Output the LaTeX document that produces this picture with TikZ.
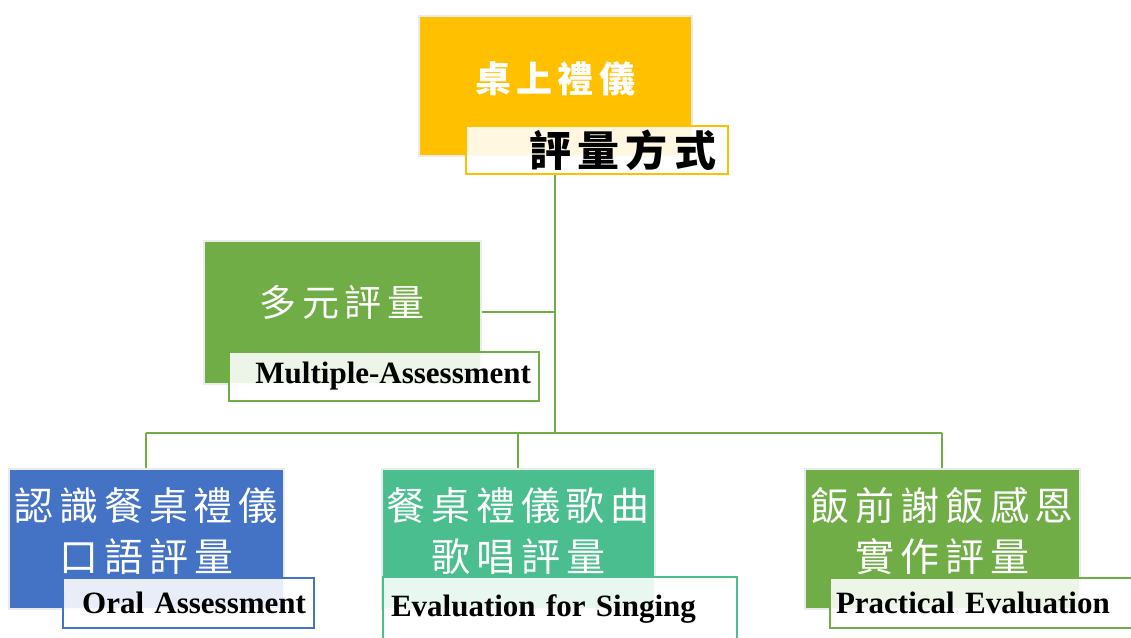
\documentclass[tikz,border=0pt]{standalone}
\usepackage{fontspec}
\setmainfont{Liberation Serif}
\newfontfamily\cjk[LetterSpace=15]{Noto Sans CJK TC}
\definecolor{gold}{HTML}{FFC000}
\definecolor{leaf}{HTML}{70AD47}
\definecolor{sky}{HTML}{4472C4}
\definecolor{jade}{HTML}{4BBE8F}

\begin{document}
\begin{tikzpicture}[x=1pt,y=-1pt,
                box/.style={draw=black!8, line width=1.5pt, text=white, align=center,
                    inner sep=0pt, anchor=north west, font=\cjk\fontsize{39}{51}\selectfont},
                lbl/.style={draw=#1, line width=2pt, fill=white, fill opacity=0.88, text opacity=1,
                    inner xsep=8pt, inner ysep=0pt, anchor=north west,
                    font=\bfseries\fontsize{31}{36}\selectfont},
                wire/.style={draw=leaf, line width=2pt}]
                \useasboundingbox (0,0) rectangle (1131,637);
                \clip (0,0) rectangle (1131,637);

                \node[box, fill=gold, minimum width=273, minimum height=140, text depth=18pt,
                    font=\cjk\bfseries\fontsize{36}{40}\selectfont] (top) at (418,15) {桌上禮儀};
                \node[lbl=gold, minimum height=48, text width=238, inner xsep=12pt, align=right,
                    font=\cjk\bfseries\fontsize{42}{46}\selectfont] (evallbl) at (465,125) {評量方式};

                \node[box, fill=leaf, minimum width=277, minimum height=143, text depth=22pt,
                    font=\cjk\fontsize{37}{40}\selectfont] (multi) at (203,240) {多元評量};
                \node[lbl=leaf, minimum height=49, text width=294, align=right] (multilbl) at (228,351) {Multiple-Assessment};

                \node[box, fill=sky, minimum width=275, minimum height=140, text depth=18pt] (oral) at (8,468) {認識餐桌禮儀\\口語評量};
                \node[lbl=sky, minimum height=50, text width=235, align=right] (orallbl) at (62,577) {Oral Assessment};

                \node[box, fill=jade, minimum width=273, minimum height=140, text depth=18pt] (sing) at (381,468) {餐桌禮儀歌曲\\歌唱評量};
                \node[lbl=jade, minimum height=64, text width=338, align=left] (singlbl) at (382,576) {Evaluation for Singing};

                \node[box, fill=leaf, minimum width=275, minimum height=140, text depth=18pt] (prac) at (804,468) {飯前謝飯感恩\\實作評量};
                \node[lbl=leaf, minimum height=50, text width=299, inner xsep=6pt, align=left] (praclbl) at (829,577) {Practical Evaluation};

                \coordinate (bus) at (554,433);
                \draw[wire] (top.south |- evallbl.south) -- (top.south |- bus);
                \draw[wire] (multi.east) -- (top.south |- multi.east);
                \draw[wire] (oral.north |- bus) -- (prac.north |- bus);
                \foreach \n in {oral,sing,prac}
                    \draw[wire] (\n.north |- bus) -- (\n.north);
            \end{tikzpicture}
\end{document}
